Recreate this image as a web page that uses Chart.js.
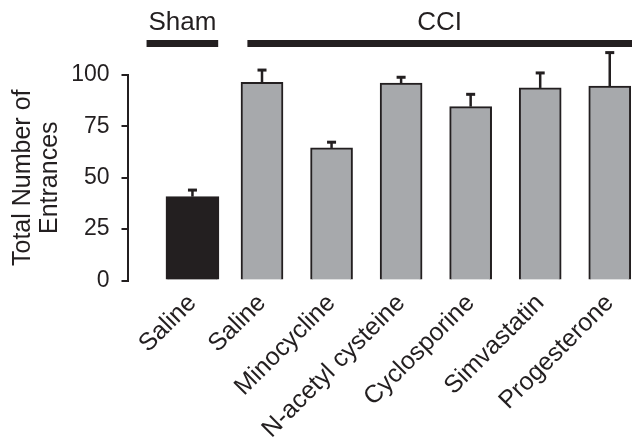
<!DOCTYPE html>
<html>
<head>
<meta charset="utf-8">
<script src="https://cdn.jsdelivr.net/npm/chart.js@4.4.0/dist/chart.umd.min.js"></script>
<style>
  html, body { margin: 0; padding: 0; background: #fff; }
</style>
</head>
<body>
<canvas id="entrancesChart" width="632" height="440"></canvas>
<script>
// data
const categories = ['Saline', 'Saline', 'Minocycline', 'N-acetyl cysteine', 'Cyclosporine', 'Simvastatin', 'Progesterone'];
const shamValues = [40.8];
const cciValues = [96.4, 64.5, 96.1, 84.6, 93.7, 94.6];
const errors = [3.2, 6.0, 2.8, 2.8, 6.0, 7.3, 16.3];
const yTicks = [0, 25, 50, 75, 100];
const groups = [
    { label: 'Sham', from: -0.66, to: 0.37 },
    { label: 'CCI', from: 0.79, to: 6.32 }
];

const ink = '#231f20';
const grey = '#a7a9ac';
const font = '"Liberation Sans", Arial, sans-serif';

// error bars + group brackets on top
const extrasPlugin = {
    id: 'extras',
    afterDatasetsDraw(chart) {
        const ctx = chart.ctx;
        const x = chart.scales.x;
        const y = chart.scales.y;
        const means = shamValues.concat(cciValues);
        ctx.save();
        ctx.strokeStyle = ink;
        ctx.fillStyle = ink;
        means.forEach((m, i) => {
            const px = x.getPixelForValue(i);
            const base = y.getPixelForValue(m);
            const top = y.getPixelForValue(m + errors[i]);
            ctx.lineWidth = 2.5;
            ctx.beginPath();
            ctx.moveTo(px, base);
            ctx.lineTo(px, top);
            ctx.stroke();
            ctx.fillRect(px - 4.5, top - 1.5, 9, 3);
        });
        ctx.font = '26px ' + font;
        ctx.textAlign = 'center';
        ctx.textBaseline = 'alphabetic';
        groups.forEach(g => {
            const x0 = x.getPixelForValue(g.from);
            const x1 = Math.min(x.getPixelForValue(g.to), chart.width);
            ctx.fillRect(x0, 40, x1 - x0, 7);
            ctx.fillText(g.label, (x0 + x1) / 2, 30);
        });
        ctx.restore();
    }
};

const chart = new Chart(document.getElementById('entrancesChart'), {
    type: 'bar',
    data: {
        datasets: [{
            label: 'Sham',
            data: shamValues.map((v, i) => ({ x: i, y: v })),
            backgroundColor: ink,
            borderColor: ink,
            borderWidth: 2,
            barThickness: 53,
            grouped: false
        }, {
            label: 'CCI',
            data: cciValues.map((v, i) => ({ x: i + 1, y: v })),
            backgroundColor: grey,
            borderColor: ink,
            borderWidth: 2,
            barThickness: 42,
            grouped: false
        }]
    },
    options: {
        responsive: false,
        animation: false,
        layout: { padding: { top: 75, left: 0, right: 0, bottom: 0 } },
        plugins: {
            legend: { display: false },
            tooltip: { enabled: false }
        },
        scales: {
            x: {
                type: 'linear',
                offset: false,
                min: -0.934,
                max: 6.32,
                grid: { display: false },
                border: { display: false },
                afterBuildTicks: (scale) => {
                    scale.ticks = categories.map((c, i) => ({ value: i }));
                },
                afterFit: (scale) => {
                    scale.height = 159.5;
                    scale.paddingLeft = 0;
                    scale.paddingRight = 0;
                },
                ticks: {
                    autoSkip: false,
                    minRotation: 45,
                    maxRotation: 45,
                    padding: 0,
                    color: ink,
                    font: { family: font, size: 25 },
                    callback: (v) => categories[v]
                }
            },
            y: {
                min: 0,
                max: 100,
                afterBuildTicks: (scale) => {
                    scale.ticks = yTicks.map(v => ({ value: v }));
                },
                afterFit: (scale) => {
                    scale.width = 127.5;
                    scale.paddingTop = 0;
                    scale.paddingBottom = 0;
                },
                border: { display: true, color: ink, width: 2 },
                grid: {
                    drawOnChartArea: false,
                    drawTicks: true,
                    tickLength: 6,
                    color: ink,
                    lineWidth: 2
                },
                ticks: {
                    padding: 12,
                    color: ink,
                    font: { family: font, size: 23 }
                },
                title: {
                    display: true,
                    text: ['Total Number of', 'Entrances'],
                    color: ink,
                    padding: { top: 9, bottom: 9 },
                    font: { family: font, size: 25, lineHeight: 1.1 }
                }
            }
        }
    },
    plugins: [extrasPlugin]
});
</script>
</body>
</html>
